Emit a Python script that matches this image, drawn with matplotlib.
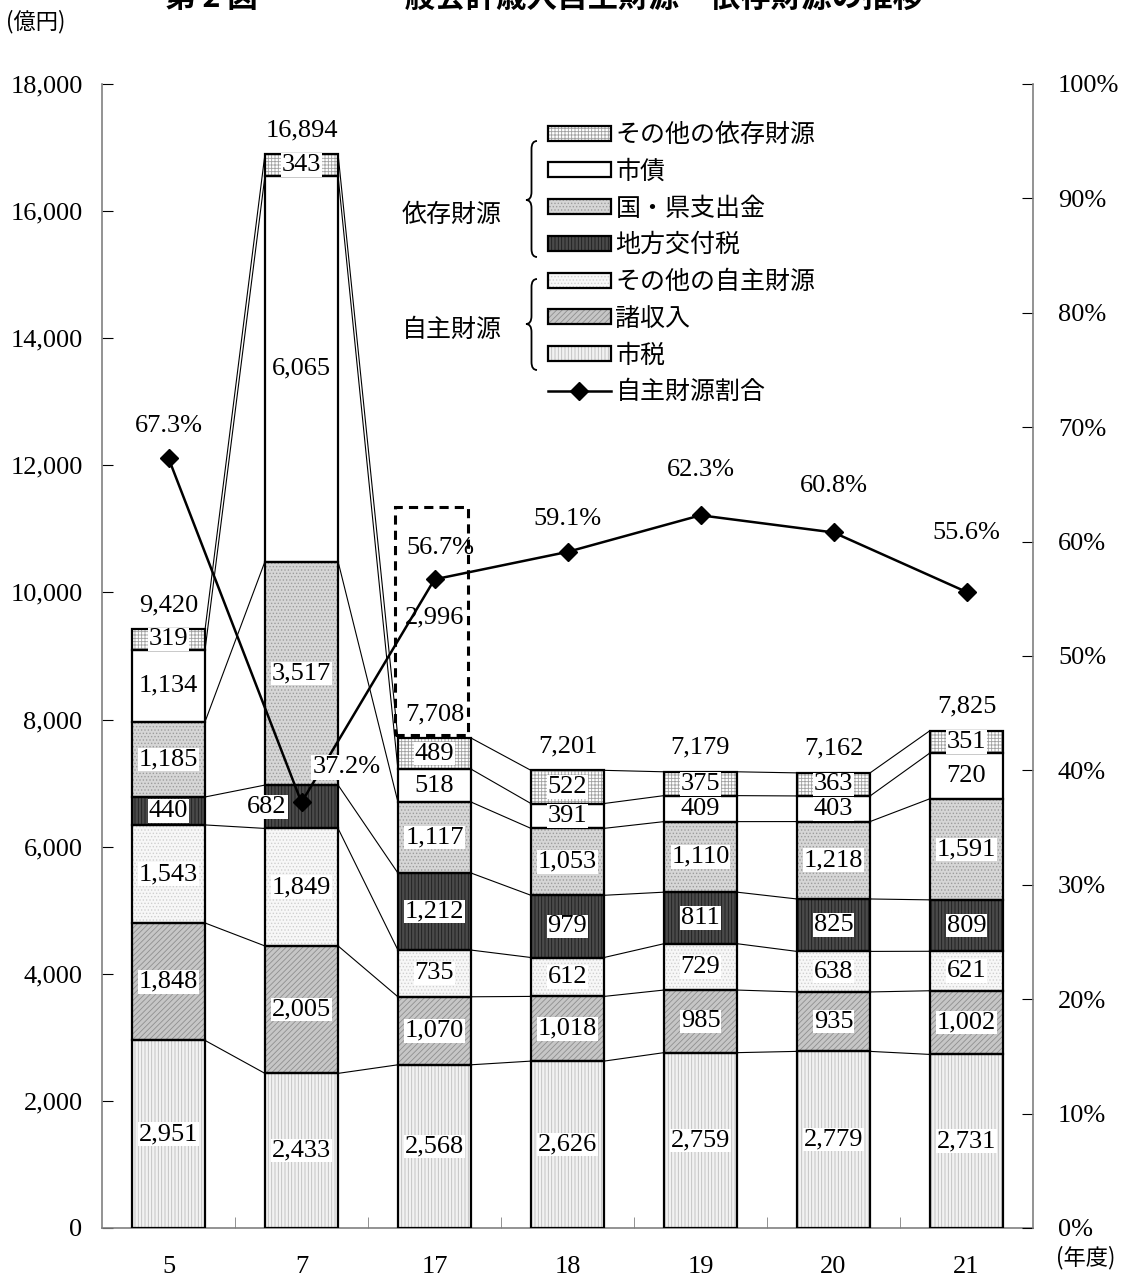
import matplotlib
matplotlib.use('Agg')
import matplotlib.pyplot as plt
import matplotlib.transforms as mtrans
from matplotlib.patches import Patch, Rectangle, PathPatch
from matplotlib.lines import Line2D
from matplotlib.path import Path
from matplotlib.legend_handler import HandlerTuple
from matplotlib.ticker import FuncFormatter, FixedLocator

NUM = ['Liberation Serif', 'Noto Sans CJK JP']
JP = ['Noto Sans CJK JP', 'DejaVu Sans']
plt.rcParams['font.family'] = NUM
plt.rcParams['hatch.linewidth'] = 0.6

# 年度別 歳入内訳 (億円)
years = ['5', '7', '17', '18', '19', '20', '21']
shizei = [2951, 2433, 2568, 2626, 2759, 2779, 2731]
shoshunyu = [1848, 2005, 1070, 1018, 985, 935, 1002]
jishu_other = [1543, 1849, 735, 612, 729, 638, 621]
kofuzei = [440, 682, 1212, 979, 811, 825, 809]
kokken = [1185, 3517, 1117, 1053, 1110, 1218, 1591]
shisai = [1134, 6065, 518, 391, 409, 403, 720]
izon_other = [319, 343, 489, 522, 375, 363, 351]
totals = [9420, 16894, 7708, 7201, 7179, 7162, 7825]
jishu_ratio = [67.3, 37.2, 56.7, 59.1, 62.3, 60.8, 55.6]

series = [
    ('市税', shizei, '#f2f2f2', '|||||', '#bdbdbd'),
    ('諸収入', shoshunyu, '#c6c6c6', '//////', '#8f8f8f'),
    ('その他の自主財源', jishu_other, '#f7f7f7', '.....', '#cfcfcf'),
    ('地方交付税', kofuzei, '#4a4a4a', '|||||', '#1c1c1c'),
    ('国・県支出金', kokken, '#d6d6d6', '.....', '#9c9c9c'),
    ('市債', shisai, 'white', '', 'white'),
    ('その他の依存財源', izon_other, 'white', '+++++', '#a0a0a0'),
]

W, H = 1122, 1280
fig = plt.figure(figsize=(W / 100, H / 100), dpi=100)
ax = fig.add_axes([102 / W, 52 / H, 931 / W, 1144 / H])
px = mtrans.Affine2D().scale(1 / W, -1 / H).translate(0, 1) + fig.transFigure

x = list(range(len(years)))
bw = 0.55
bottom = [0] * len(years)
bounds = []
handles = {}
for name, vals, fc, hatch, hc in series:
    ax.bar(x, vals, bw, bottom=bottom, color=fc, hatch=hatch, edgecolor=hc,
           linewidth=0, zorder=2)
    ax.bar(x, vals, bw, bottom=bottom, fill=False, edgecolor='black',
           linewidth=1.6, zorder=3)
    for i, v in enumerate(vals):
        dx = -0.26 if (name == '地方交付税' and i == 1) else 0
        ax.text(i + dx, bottom[i] + v / 2, f'{v:,}', ha='center', va='center',
                fontsize=19, zorder=4,
                bbox=dict(fc='white', ec='none', pad=0.6))
    bottom = [b + v for b, v in zip(bottom, vals)]
    bounds.append(list(bottom))
    handles[name] = (Patch(facecolor=fc, hatch=hatch, edgecolor=hc, linewidth=0),
                     Patch(fill=False, edgecolor='black', linewidth=1.6))

# segment boundaries joined between neighbouring bars
for cum in bounds:
    for i in range(len(years) - 1):
        ax.plot([i + bw / 2, i + 1 - bw / 2], [cum[i], cum[i + 1]],
                color='black', linewidth=0.8, zorder=1)

for i, t in enumerate(totals):
    ax.annotate(f'{t:,}', (i, bounds[-1][i]), xytext=(0, 24),
                textcoords='offset pixels', ha='center', va='center',
                fontsize=19, zorder=4)

ax.text(2, 9610, '2,996', ha='center', va='center', fontsize=19, zorder=4)
ax.add_patch(Rectangle((1.70, 7757), 0.55, 3587, fill=False, edgecolor='black',
                       linewidth=2.2, linestyle=(0, (3, 2)), zorder=4))

ax.set_xlim(-0.5, len(years) - 0.5)
ax.set_ylim(0, 18000)
ax.set_yticks(range(0, 18001, 2000))
ax.yaxis.set_major_formatter(FuncFormatter(lambda v, p: f'{int(v):,}'))
ax.set_xticks(x)
ax.set_xticklabels(years)
ax.xaxis.set_minor_locator(FixedLocator([i + 0.5 for i in range(len(years) - 1)]))
ax.tick_params(axis='y', direction='in', length=8, pad=14, labelsize=19)
ax.tick_params(axis='x', which='major', length=0, pad=20, labelsize=19)
ax.tick_params(axis='x', which='minor', direction='in', length=8, color='#808080')
for s in ['top', 'right']:
    ax.spines[s].set_visible(False)
for s in ['left', 'bottom']:
    ax.spines[s].set_color('#808080')
    ax.spines[s].set_linewidth(1.2)

ax2 = ax.twinx()
ax2.set_ylim(0, 100)
ax2.set_yticks(range(0, 101, 10))
ax2.yaxis.set_major_formatter(FuncFormatter(lambda v, p: f'{int(v)}%'))
ax2.tick_params(axis='y', direction='in', length=8, pad=18, labelsize=19)
for s in ['top', 'left', 'bottom']:
    ax2.spines[s].set_visible(False)
ax2.spines['right'].set_color('#808080')
ax2.spines['right'].set_linewidth(1.2)

ax2.plot(x, jishu_ratio, color='black', linewidth=1.8, marker='D', markersize=9,
         zorder=5)
pct_offsets = [(0, 32), (45, 35), (6, 31), (0, 33), (0, 45), (0, 46), (0, 59)]
for i, (r, off) in enumerate(zip(jishu_ratio, pct_offsets)):
    box = dict(fc='white', ec='none', pad=1) if i == 1 else None
    ax2.annotate(f'{r}%', (i, r), xytext=off, textcoords='offset pixels',
                 ha='center', va='center', fontsize=19, bbox=box, zorder=6)

# legend
order = ['その他の依存財源', '市債', '国・県支出金', '地方交付税',
         'その他の自主財源', '諸収入', '市税']
leg_handles = [handles[n] for n in order]
leg_handles.append(Line2D([], [], color='black', linewidth=1.8, marker='D',
                          markersize=9))
leg_labels = order + ['自主財源割合']
leg = ax2.legend(leg_handles, leg_labels, loc='upper left',
                 bbox_to_anchor=(548 / W, 1 - 122 / H),
                 bbox_transform=fig.transFigure, frameon=False,
                 handler_map={tuple: HandlerTuple(ndivide=1, pad=0)},
                 prop={'family': JP, 'size': 18}, handlelength=2.5,
                 handleheight=0.55, handletextpad=0.2, labelspacing=0.43,
                 borderpad=0, borderaxespad=0)


def brace(xl, y0, y1, ytip, w=11):
    xm = xl + w / 2
    r = 8
    verts = [(xl + w, y0), (xm, y0), (xm, y0 + r),
             (xm, ytip - r), (xm, ytip), (xl, ytip),
             (xm, ytip), (xm, ytip + r),
             (xm, y1 - r), (xm, y1), (xl + w, y1)]
    codes = [Path.MOVETO, Path.CURVE3, Path.CURVE3,
             Path.LINETO, Path.CURVE3, Path.CURVE3,
             Path.CURVE3, Path.CURVE3,
             Path.LINETO, Path.CURVE3, Path.CURVE3]
    fig.patches.append(PathPatch(Path(verts, codes), fill=False, lw=1.3,
                                 edgecolor='black', transform=px))


brace(526, 141, 257, 200)
brace(526, 279, 370, 324)
fig.text(402, 215, '依存財源', transform=px, fontsize=18, family=JP, va='center')
fig.text(402, 330, '自主財源', transform=px, fontsize=18, family=JP, va='center')

fig.text(165, -2, '第 2 図', transform=px, fontsize=22, fontweight='bold',
         family=JP, va='center')
fig.text(375, -2, '一般会計歳入自主財源・依存財源の推移', transform=px, fontsize=22,
         fontweight='bold', family=JP, va='center')
fig.text(6, 22, '(億円)', transform=px, fontsize=16, family=JP, va='center')
fig.text(1056, 1258, '(年度)', transform=px, fontsize=16, family=JP, va='center')

fig.savefig('out.png', dpi=100)
